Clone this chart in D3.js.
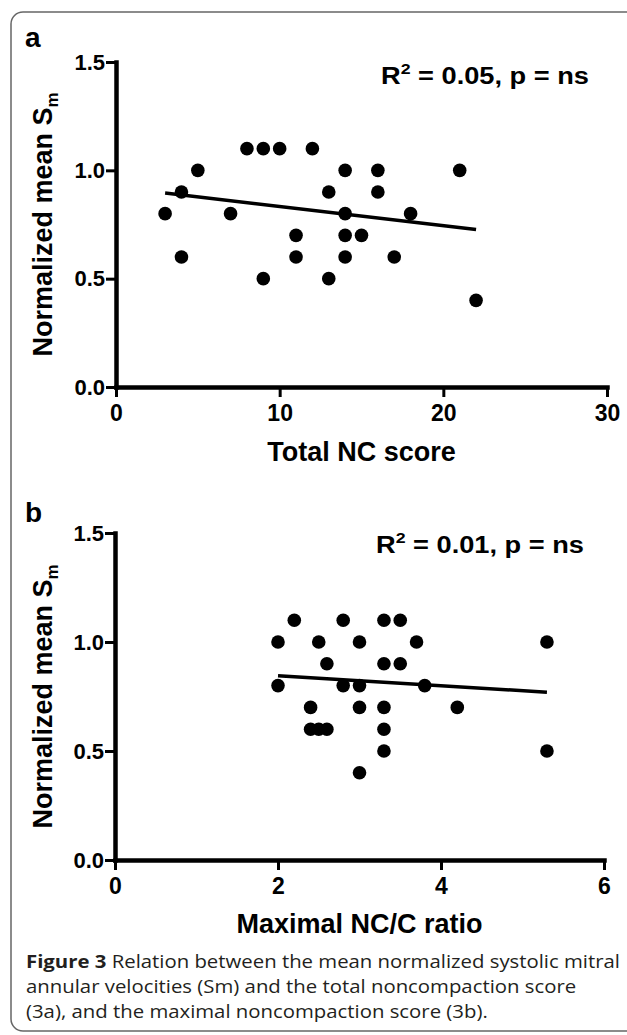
<!DOCTYPE html>
<html>
<head>
<meta charset="utf-8">
<script src="https://cdn.jsdelivr.net/npm/d3@7"></script>
<style>
  body { margin: 0; background: #fff; }
  svg text { font-family: "Liberation Sans", Arial, Helvetica, sans-serif; font-weight: bold; fill: #000; }
  svg text.cap { font-family: "Open Sans", sans-serif; font-weight: normal; fill: #231f20; }
</style>
</head>
<body>
<div id="chart"></div>
<script>
// panel a : total NC score vs normalized mean Sm
var ncScore = [3, 4, 4, 5, 7, 8, 9, 9, 10, 11, 11, 12, 13, 13, 14, 14, 14, 14, 15, 16, 16, 17, 18, 21, 22];
var smA     = [0.8, 0.9, 0.6, 1.0, 0.8, 1.1, 1.1, 0.5, 1.1, 0.7, 0.6, 1.1, 0.9, 0.5, 1.0, 0.8, 0.7, 0.6, 0.7, 1.0, 0.9, 0.6, 0.8, 1.0, 0.4];
var fitA = [[3, 0.895], [22, 0.727]];

// panel b : maximal NC/C ratio vs normalized mean Sm
var ncRatio = [2.0, 2.0, 2.2, 2.4, 2.4, 2.5, 2.5, 2.6, 2.6, 2.8, 2.8, 3.0, 3.0, 3.0, 3.0, 3.3, 3.3, 3.3, 3.3, 3.3, 3.5, 3.5, 3.7, 3.8, 4.2, 5.3, 5.3];
var smB     = [1.0, 0.8, 1.1, 0.7, 0.6, 1.0, 0.6, 0.9, 0.6, 1.1, 0.8, 1.0, 0.8, 0.7, 0.4, 1.1, 0.9, 0.7, 0.6, 0.5, 1.1, 0.9, 1.0, 0.8, 0.7, 1.0, 0.5];
var fitB = [[2.0, 0.845], [5.3, 0.77]];

var yTicks = [0, 0.5, 1.0, 1.5];
var xTicksA = [0, 10, 20, 30];
var xTicksB = [0, 2, 4, 6];

var caption = [
  ["Figure 3", " Relation between the mean normalized systolic mitral"],
  ["", "annular velocities (Sm) and the total noncompaction score"],
  ["", "(3a), and the maximal noncompaction score (3b)."]
];

var w = 627, h = 1035;
var svg = d3.select("#chart").append("svg")
  .attr("width", w)
  .attr("height", h);

// rounded frame, open on the right
svg.append("rect")
  .attr("x", 11).attr("y", 12)
  .attr("width", 700).attr("height", 1019)
  .attr("rx", 12)
  .attr("fill", "none")
  .attr("stroke", "#666")
  .attr("stroke-width", 1.5);

function drawPanel(p) {
  var x = d3.scaleLinear().domain([0, p.xTicks[p.xTicks.length - 1]]).range([p.left, p.right]);
  var y = d3.scaleLinear().domain([0, 1.5]).range([p.bottom, p.top]);
  var g = svg.append("g");

  var xAxis = g.append("g")
    .attr("transform", "translate(0," + p.bottom + ")")
    .call(d3.axisBottom(x).tickValues(p.xTicks).tickFormat(d3.format("d")).tickSize(10).tickPadding(8).tickSizeOuter(0));
  var yAxis = g.append("g")
    .attr("transform", "translate(" + p.left + ",0)")
    .call(d3.axisLeft(y).tickValues(yTicks).tickFormat(d3.format(".1f")).tickSize(10).tickPadding(1).tickSizeOuter(0));

  [xAxis, yAxis].forEach(function(a) {
    a.select(".domain").attr("stroke", "#000").attr("stroke-width", 4.5).attr("stroke-linecap", "square");
    a.selectAll(".tick line").attr("stroke", "#000").attr("stroke-width", 3);
    a.selectAll(".tick text").attr("fill", "#000").style("font-size", "22px");
  });
  xAxis.selectAll(".tick text").style("font-size", "23px");

  // regression line
  g.append("line")
    .attr("x1", x(p.fit[0][0])).attr("y1", y(p.fit[0][1]))
    .attr("x2", x(p.fit[1][0])).attr("y2", y(p.fit[1][1]))
    .attr("stroke", "#000").attr("stroke-width", 3.5);

  g.selectAll("circle")
    .data(p.xs.map(function(d, i) { return [d, p.ys[i]]; }))
    .enter().append("circle")
    .attr("cx", function(d) { return x(d[0]); })
    .attr("cy", function(d) { return y(d[1]); })
    .attr("r", 6.8)
    .attr("fill", "#000");

  // panel letter
  g.append("text").attr("x", 25).attr("y", p.letterY)
    .style("font-size", "28px").text(p.letter);

  // y title
  var yt = g.append("text")
    .attr("transform", "translate(52," + ((p.top + p.bottom) / 2) + ") rotate(-90)")
    .attr("text-anchor", "middle")
    .style("font-size", "27px");
  yt.append("tspan").text("Normalized mean S");
  yt.append("tspan").attr("dy", 6).style("font-size", "17px").text("m");

  // x title
  g.append("text")
    .attr("x", (p.left + p.right) / 2).attr("y", p.xTitleY)
    .attr("text-anchor", "middle")
    .style("font-size", "27px")
    .text(p.xTitle);

  // R squared note
  var r = g.append("text")
    .attr("x", p.noteX).attr("y", p.noteY)
    .attr("text-anchor", "end")
    .style("font-size", "23px");
  r.append("tspan").text("R");
  r.append("tspan").attr("dy", -10).style("font-size", "15px").text("2");
  r.append("tspan").attr("dy", 10).text(" = " + p.r2 + ", p = ns");
  r.attr("textLength", p.noteW).attr("lengthAdjust", "spacingAndGlyphs");
}

drawPanel({
  letter: "a", letterY: 47,
  xs: ncScore, ys: smA, fit: fitA, xTicks: xTicksA,
  left: 116, right: 607, top: 62, bottom: 387,
  xTitle: "Total NC score", xTitleY: 461,
  r2: "0.05", noteX: 589, noteY: 84, noteW: 208
});

drawPanel({
  letter: "b", letterY: 522,
  xs: ncRatio, ys: smB, fit: fitB, xTicks: xTicksB,
  left: 115, right: 604, top: 533, bottom: 860,
  xTitle: "Maximal NC/C ratio", xTitleY: 933,
  r2: "0.01", noteX: 584, noteY: 553, noteW: 208
});

// caption: 18px text, stretched so the first line reaches x = 620 like the figure
var capSize = 18;
var capG = svg.append("g");
var capLines = caption.map(function(line, i) {
  var t = capG.append("text").attr("class", "cap")
    .attr("x", 26).attr("y", 968 + i * 25)
    .style("font-size", capSize + "px");
  if (line[0]) t.append("tspan").style("font-weight", "bold").text(line[0]);
  t.append("tspan").text(line[1]);
  return t;
});
var s = 594 / capLines[0].node().getComputedTextLength();
capLines.forEach(function(t) {
  var n = t.node().getComputedTextLength();
  t.attr("textLength", n * s).attr("lengthAdjust", "spacingAndGlyphs");
});
</script>
</body>
</html>
